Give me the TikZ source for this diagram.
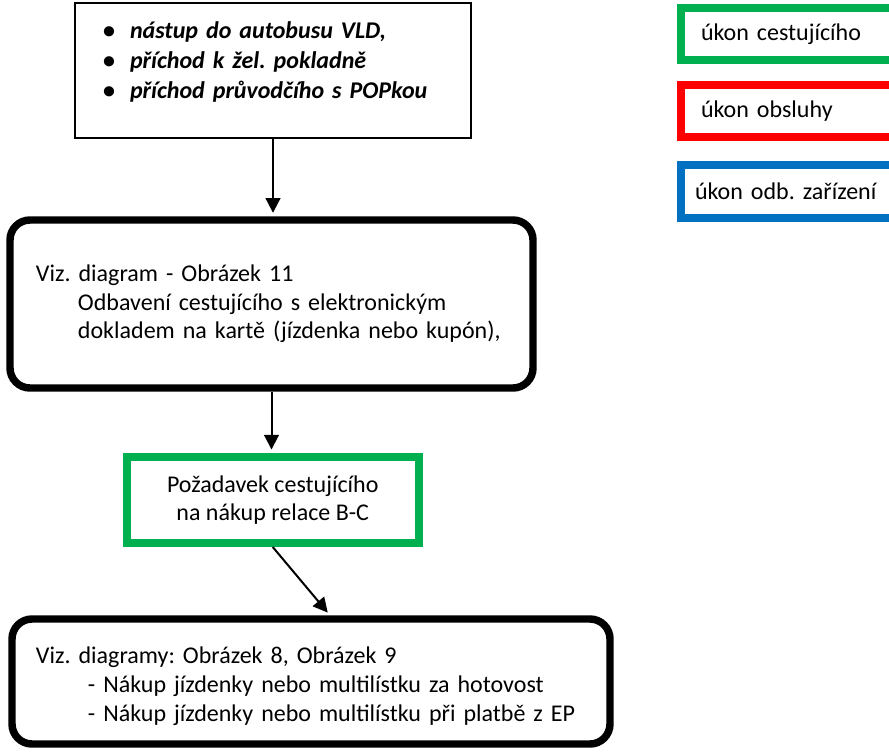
\documentclass[tikz,border=0pt]{standalone}
\usepackage{fontspec}
\setmainfont{Carlito}
\usetikzlibrary{arrows.meta,calc}
\newlength{\pxu}\setlength{\pxu}{0.75pt}
\definecolor{actgreen}{HTML}{00B050}
\definecolor{actred}{HTML}{FF0000}
\definecolor{actblue}{HTML}{0070C0}
\frenchspacing
\begin{document}
\begin{tikzpicture}[x=0.75pt,y=-0.75pt,>={Triangle[length=11pt,width=11pt]},
  txt/.style={font=\fontsize{18pt}{21.5pt}\selectfont},
  refbox/.style={txt,draw,line width=5.6pt,rounded corners=15pt,align=left},
  legend/.style={txt,draw,line width=6pt,minimum width=223.5\pxu,minimum height=52.5\pxu,anchor=west,align=left},
  flow/.style={->,line width=1.5pt,shorten >=2.6pt}]
\clip (0,0) rectangle (889,751);
\node[draw,line width=1.5pt,minimum width=396\pxu,minimum height=135\pxu,text width=340\pxu,inner xsep=28\pxu,align=left,
  font=\fontsize{18pt}{22.5pt}\selectfont\bfseries\itshape] (start) at (273,70.5)
  {\makebox[27\pxu][l]{\upshape\textbullet}nástup do autobusu VLD,\\
   \makebox[27\pxu][l]{\upshape\textbullet}příchod k žel. pokladně\\
   \makebox[27\pxu][l]{\upshape\textbullet}příchod průvodčího s POPkou\rule[-21.5\pxu]{0pt}{21.5\pxu}};
\node[refbox,minimum width=523\pxu,minimum height=168\pxu,text width=471\pxu,inner xsep=26\pxu] (diag) at (271.5,304)
  {Viz. diagram - Obrázek 11\\
   \hspace*{42\pxu}Odbavení cestujícího s elektronickým\\
   \hspace*{42\pxu}dokladem na kartě (jízdenka nebo kupón),};
\node[txt,draw=actgreen,line width=6pt,minimum width=291.5\pxu,minimum height=86\pxu,align=center] (req) at (272.75,500)
  {Požadavek cestujícího\\na nákup relace B-C};
\node[refbox,minimum width=598\pxu,minimum height=125\pxu,text width=550\pxu,inner xsep=24\pxu] (buy) at (311,681.5)
  {\rule{0pt}{26\pxu}Viz. diagramy: Obrázek 8, Obrázek 9\\
   \hspace*{52\pxu}- Nákup jízdenky nebo multilístku za hotovost\\
   \hspace*{52\pxu}- Nákup jízdenky nebo multilístku při platbě z EP};
% legend
\node[legend,draw=actgreen,text width=182.5\pxu,inner xsep=20.5\pxu] (lgpass) at (676.5,34) {úkon cestujícího};
\node[legend,draw=actred,text width=182.5\pxu,inner xsep=20.5\pxu] (lgstaff) at (676.5,111) {úkon obsluhy};
\node[legend,draw=actblue,text width=194.5\pxu,inner xsep=14.5\pxu] (lgdev) at (676.5,191.5) {úkon odb. zařízení};
\draw[flow] (start.south) -- (start.south |- diag.north);
\draw[flow] (diag.south) -- (diag.south |- req.north);
\draw[flow] (req.south) -- ($(buy.north)+(19,0)$);
\end{tikzpicture}
\end{document}
